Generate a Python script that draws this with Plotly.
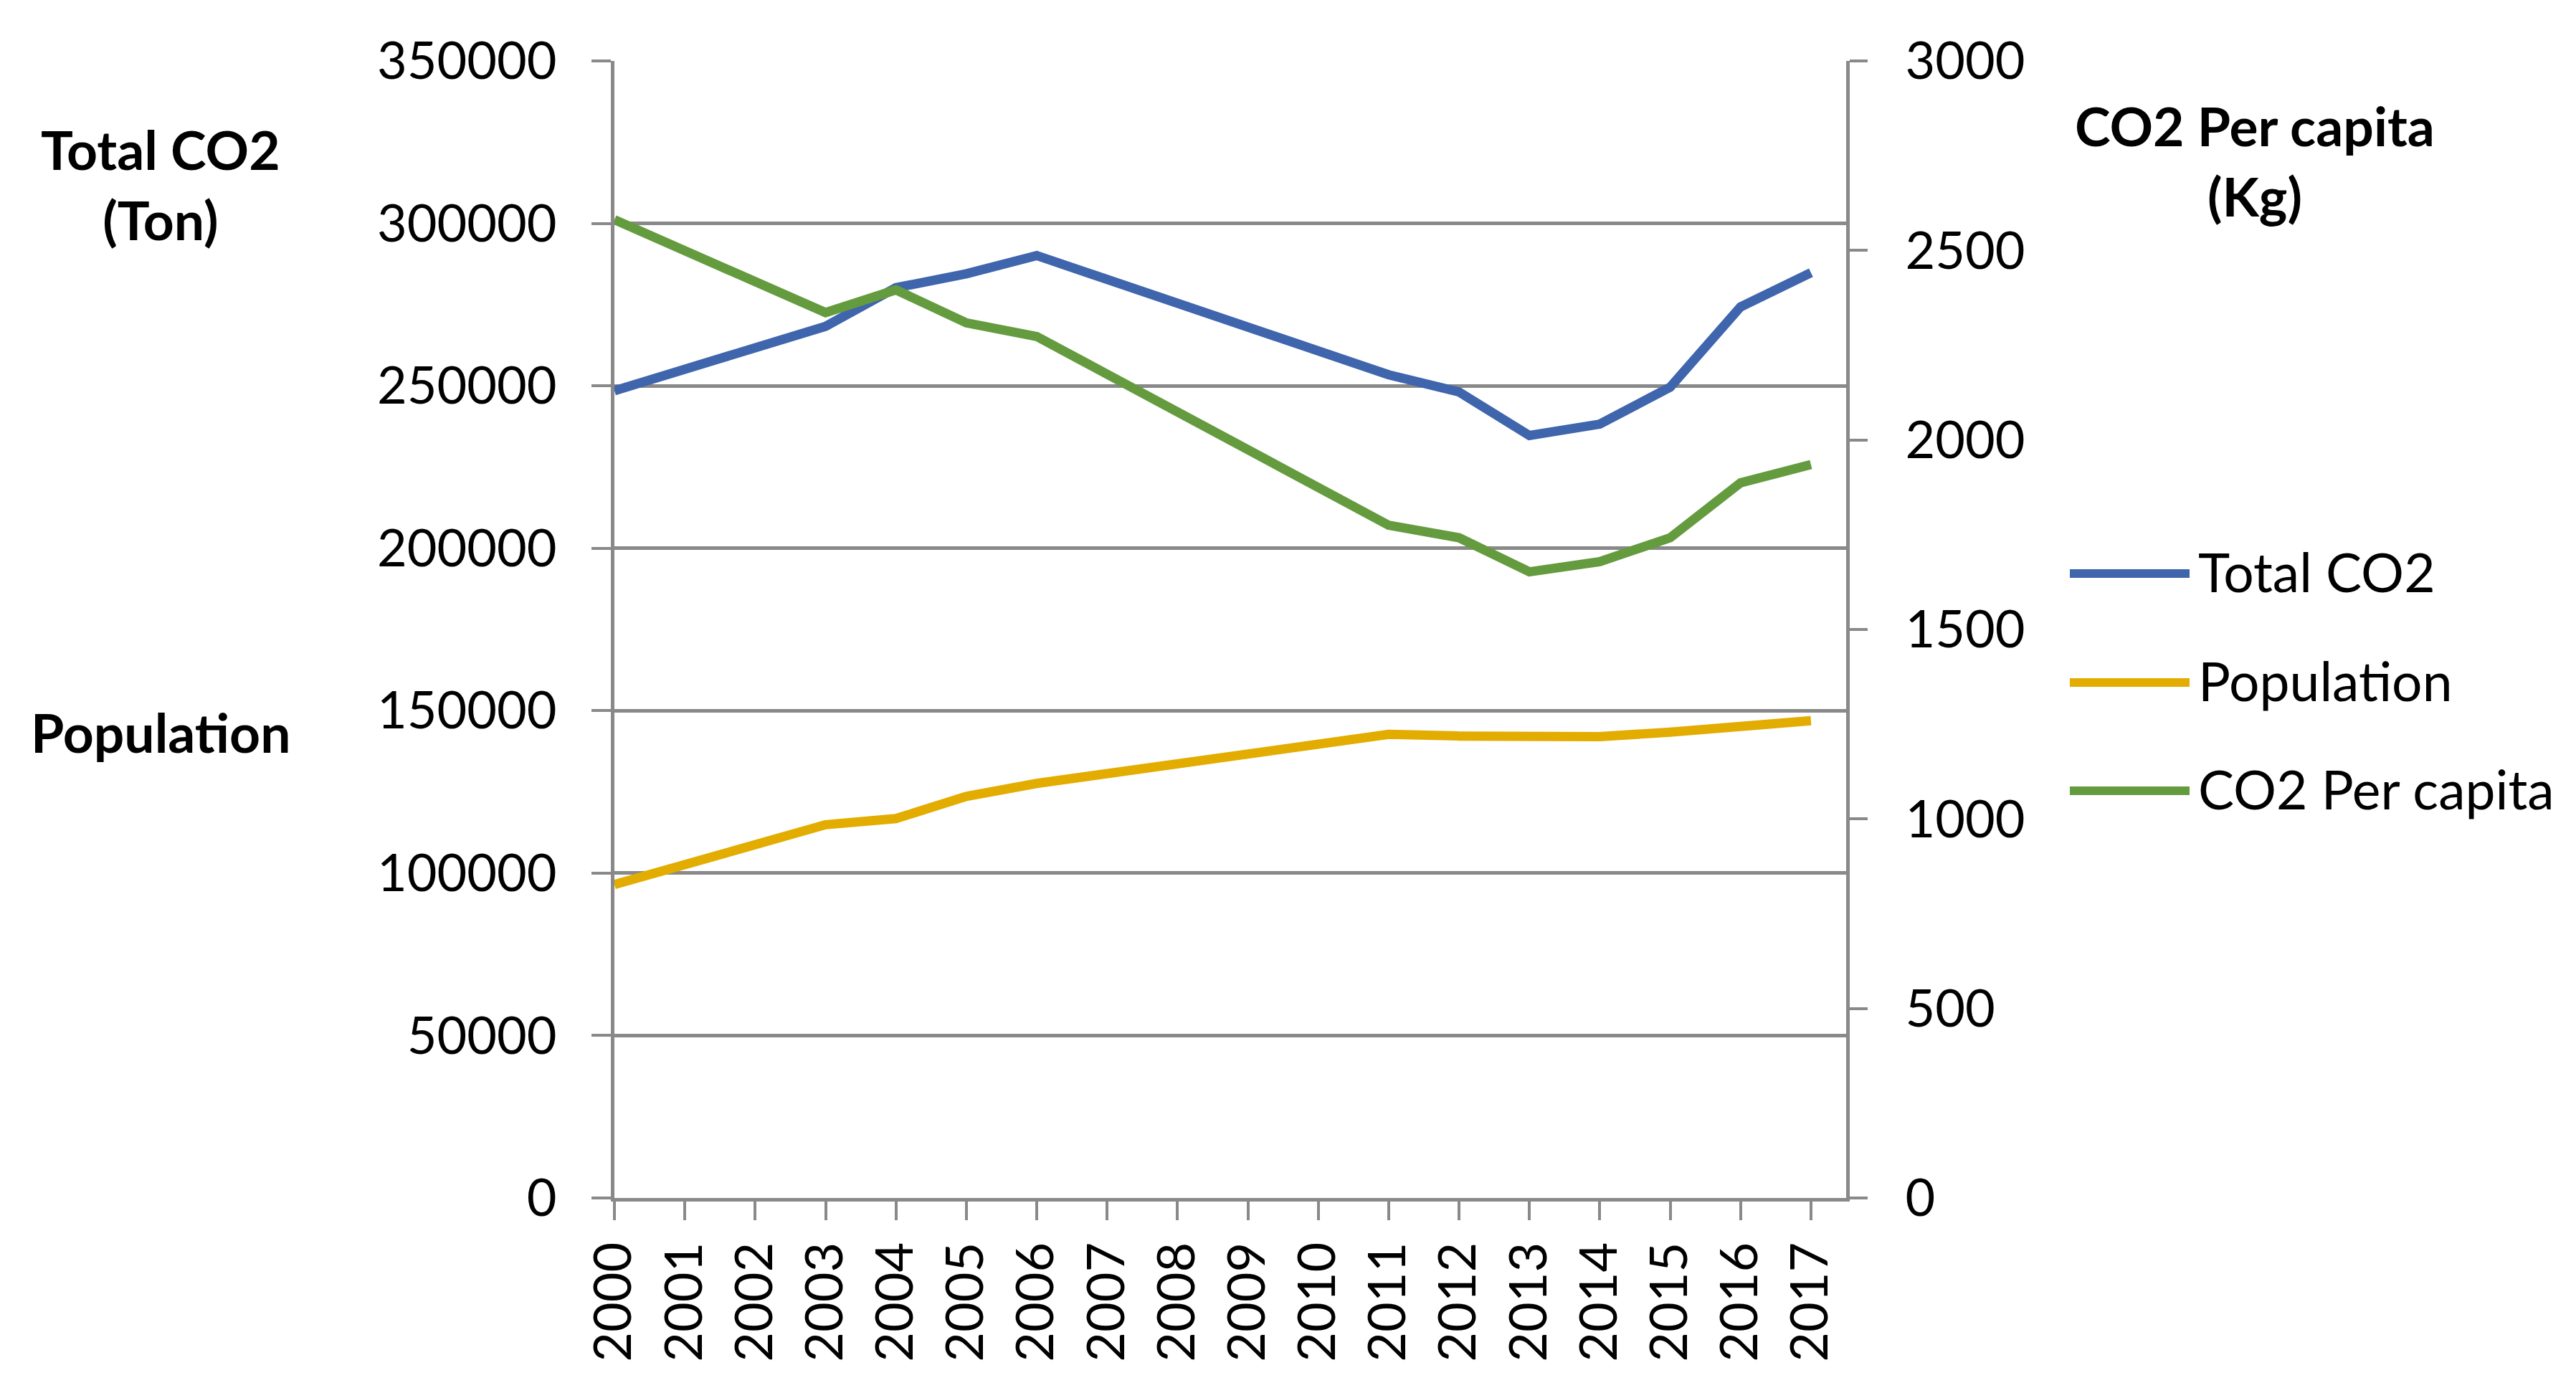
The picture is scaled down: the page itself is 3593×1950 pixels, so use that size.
import plotly.graph_objects as go

years = [2000, 2003, 2004, 2005, 2006, 2011, 2012, 2013, 2014, 2015, 2016, 2017]
total_co2 = [248500, 268300, 280200, 284500, 290100, 253400, 248100, 234700, 238200, 249600, 274300, 284800]
population = [96500, 114900, 116800, 123600, 127600, 142700, 142200, 142000, 142000, 143400, 145200, 146900]
per_capita = [2581, 2336, 2396, 2309, 2273, 1775, 1742, 1652, 1679, 1742, 1887, 1935]

tick_years = list(range(2000, 2018))
left_ticks = [0, 50000, 100000, 150000, 200000, 250000, 300000, 350000]
right_ticks = [0, 500, 1000, 1500, 2000, 2500, 3000]

series_names = ["Total CO2", "Population", "CO2 Per capita"]
series_colors = ["#3F65AD", "#E3AC00", "#649B3E"]

FONT = "Lato"
GRID = "#898989"
W, H = 3593, 1950
L, R, T, B = 857, 1018, 85, 279   # target plot area in screen pixels
OFF = 8                           # page body margin offset

fig = go.Figure()
fig.add_trace(go.Scatter(x=years, y=total_co2, name=series_names[0], mode="lines",
                         line=dict(color=series_colors[0], width=13), yaxis="y", showlegend=False))
fig.add_trace(go.Scatter(x=years, y=population, name=series_names[1], mode="lines",
                         line=dict(color=series_colors[1], width=13), yaxis="y", showlegend=False))
fig.add_trace(go.Scatter(x=years, y=per_capita, name=series_names[2], mode="lines",
                         line=dict(color=series_colors[2], width=13), yaxis="y2", showlegend=False))

tickfont = dict(family=FONT, size=72, color="black")

fig.update_layout(
    width=W, height=H,
    margin=dict(l=L - OFF, r=R + OFF, t=T - OFF, b=B + OFF, pad=0),
    paper_bgcolor="white", plot_bgcolor="white",
    font=dict(family=FONT, color="black"),
    xaxis=dict(
        range=[2000, 2017.5], tickmode="array", tickvals=tick_years,
        ticktext=[str(y) for y in tick_years], tickangle=-90,
        ticks="outside", ticklen=26, tickwidth=4, tickcolor=GRID,
        showline=True, linecolor=GRID, linewidth=5,
        showgrid=False, zeroline=False, tickfont=tickfont,
        ticklabelstandoff=2,
    ),
    yaxis=dict(
        range=[0, 350000], tickmode="array", tickvals=left_ticks,
        ticktext=[str(v) for v in left_ticks],
        ticks="outside", ticklen=27, tickwidth=4, tickcolor=GRID,
        showline=True, linecolor=GRID, linewidth=5,
        showgrid=True, gridcolor=GRID, gridwidth=5,
        zeroline=False, tickfont=tickfont, ticklabelstandoff=34,
    ),
    yaxis2=dict(
        range=[0, 3000], tickmode="array", tickvals=right_ticks,
        ticktext=[str(v) for v in right_ticks],
        overlaying="y", side="right",
        ticks="outside", ticklen=25, tickwidth=4, tickcolor=GRID,
        showline=True, linecolor=GRID, linewidth=5,
        showgrid=False, zeroline=False, tickfont=tickfont, ticklabelstandoff=38,
    ),
)

pw = W - L - R
ph = H - T - B

def px_x(p):
    return (p - L) / pw

def px_y(p):
    return (H - B - p) / ph

title_font = dict(family=FONT, size=75, color="black")
fig.add_annotation(text="<b>Total CO2</b><br><b>(Ton)</b>", x=px_x(224), y=px_y(257),
                   xref="paper", yref="paper", showarrow=False, xanchor="center",
                   yanchor="middle", align="center", font=title_font)
fig.add_annotation(text="<b>Population</b>", x=px_x(224), y=px_y(1021),
                   xref="paper", yref="paper", showarrow=False, xanchor="center",
                   yanchor="middle", align="center", font=title_font)
fig.add_annotation(text="<b>CO2 Per capita</b><br><b>(Kg)</b>", x=px_x(3145), y=px_y(224),
                   xref="paper", yref="paper", showarrow=False, xanchor="center",
                   yanchor="middle", align="center", font=title_font)

# legend (drawn manually to match long legend line samples)
legend_y = [800, 952, 1103]
for name, color, ly in zip(series_names, series_colors, legend_y):
    fig.add_shape(type="line", xref="paper", yref="paper",
                  x0=px_x(2887), x1=px_x(3054), y0=px_y(ly), y1=px_y(ly),
                  line=dict(color=color, width=12))
    fig.add_annotation(text=name, x=px_x(3064), y=px_y(ly - 3), xref="paper", yref="paper",
                       showarrow=False, xanchor="left", yanchor="middle",
                       font=dict(family=FONT, size=75, color="black"))

fig.write_html("out.html")
